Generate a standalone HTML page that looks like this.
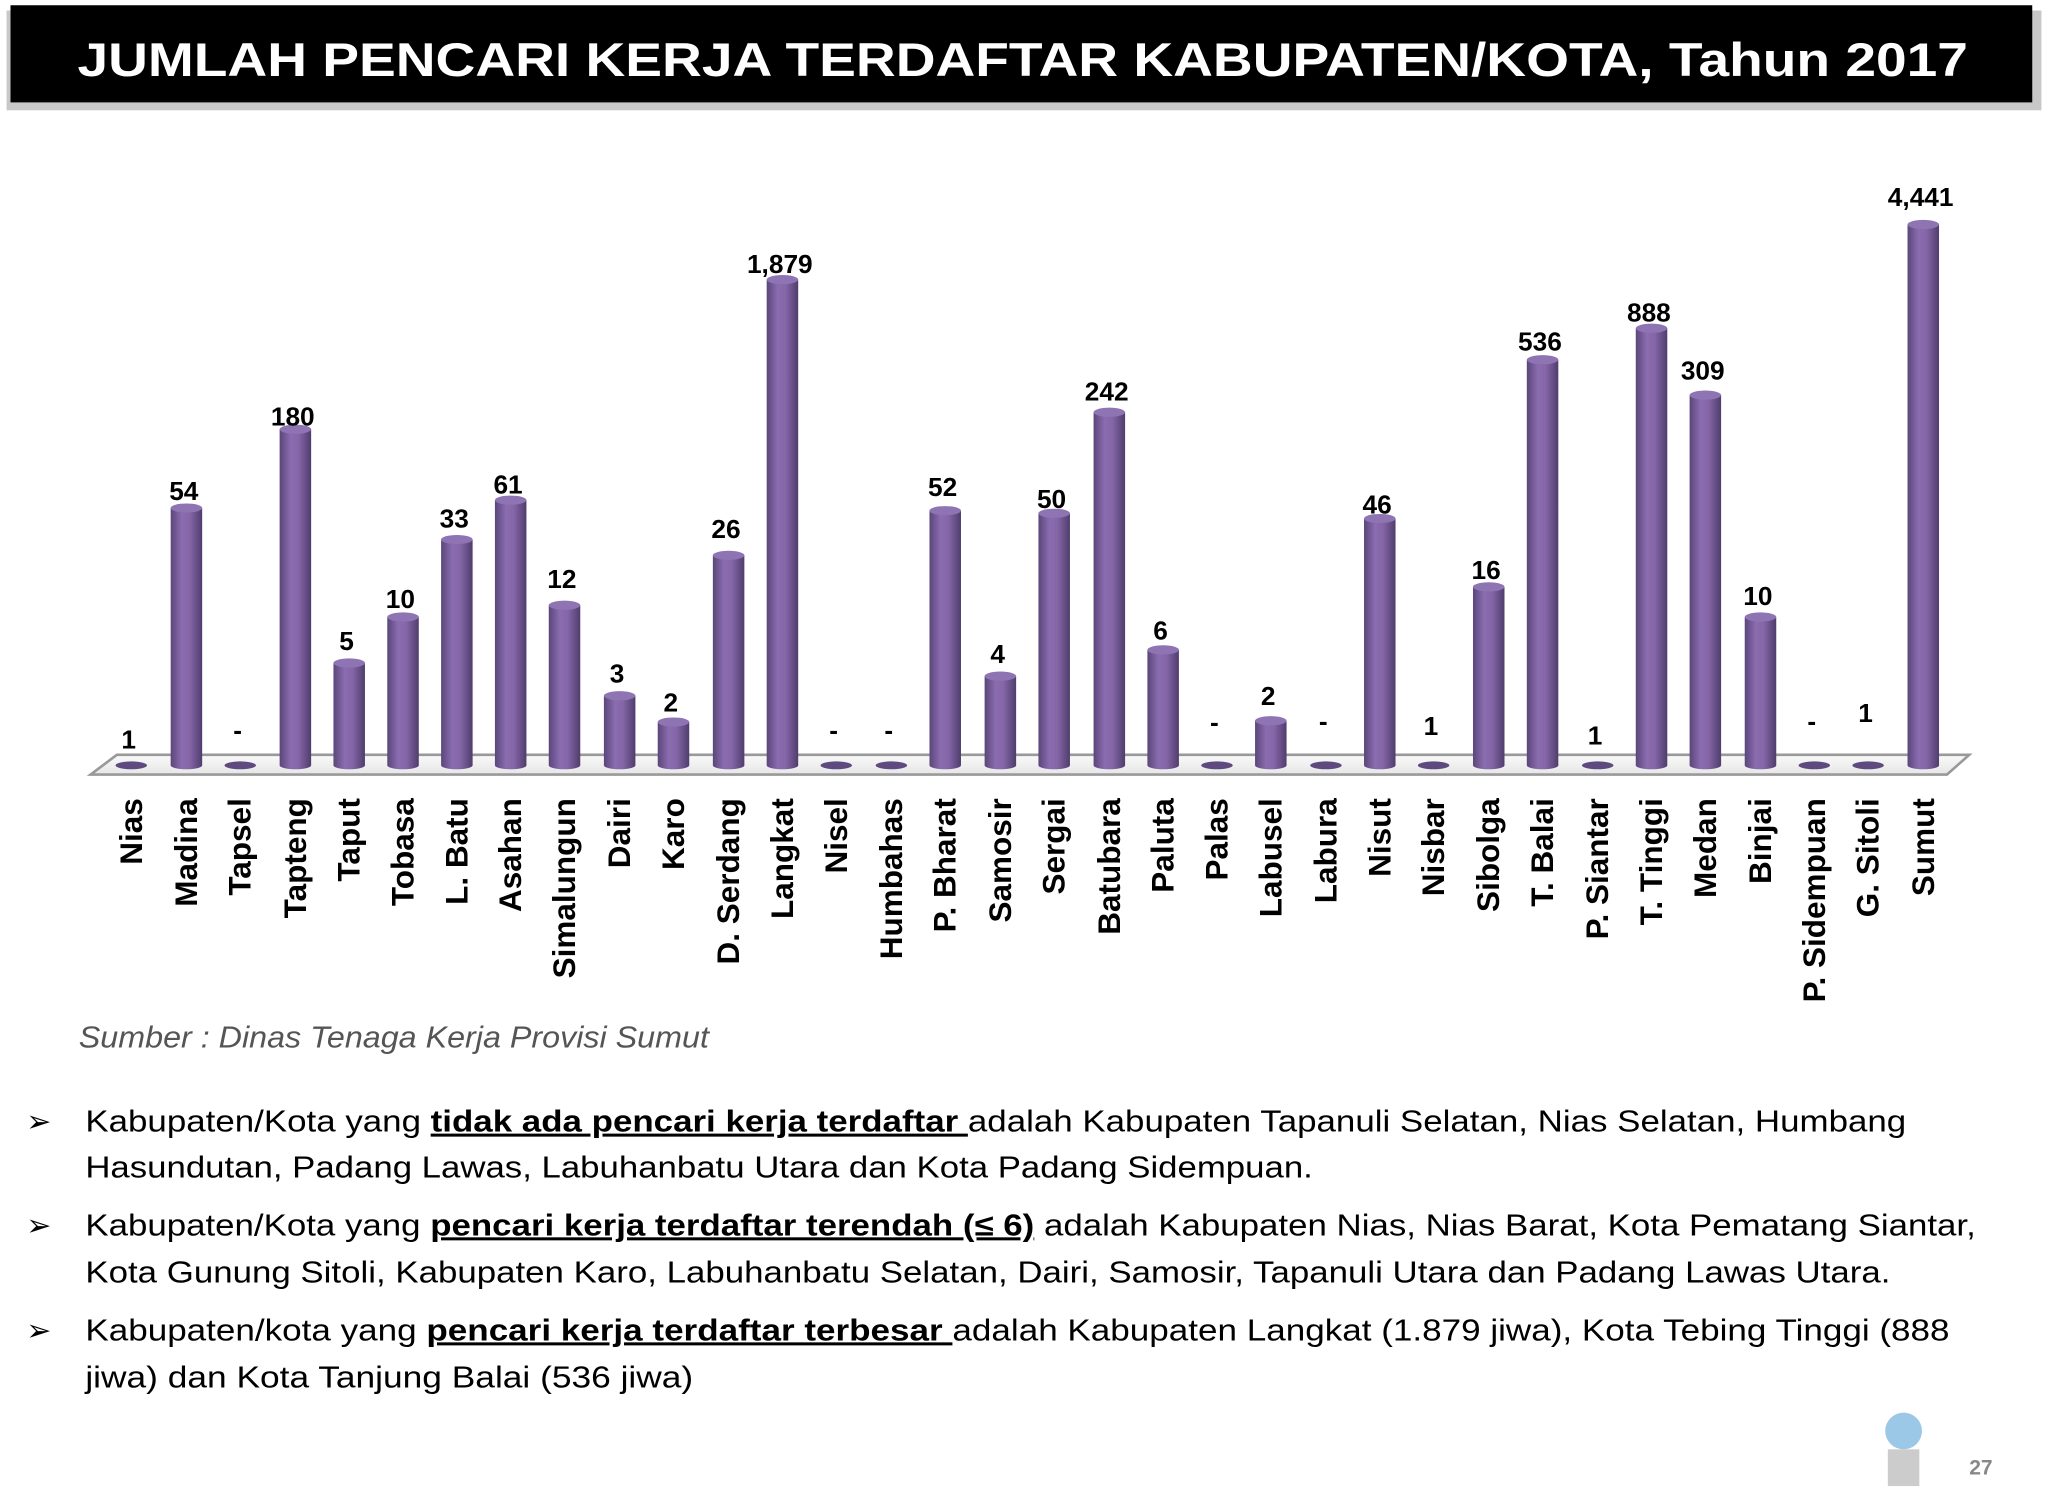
<!DOCTYPE html>
<html><head><meta charset="utf-8">
<style>html,body{margin:0;padding:0;background:#fff;}svg{display:block;}</style>
</head><body>
<svg width="2048" height="1500" viewBox="0 0 1560 1142.6" preserveAspectRatio="none" xmlns="http://www.w3.org/2000/svg" font-family="Liberation Sans, sans-serif">
<defs>
<linearGradient id="cyl" x1="0" x2="1" y1="0" y2="0">
<stop offset="0" stop-color="#5a4679"/><stop offset="0.35" stop-color="#8a6cb0"/><stop offset="0.6" stop-color="#8566a8"/><stop offset="1" stop-color="#4f3d6c"/>
</linearGradient>
<linearGradient id="floor" x1="0" x2="0" y1="0" y2="1"><stop offset="0" stop-color="#fafafa"/><stop offset="1" stop-color="#e6e6e6"/></linearGradient>
</defs>
<rect x="5" y="8" width="1550" height="76" fill="#c8c8c8"/>
<rect x="8" y="4" width="1540" height="74" fill="#000"/>
<text x="779" y="58" text-anchor="middle" fill="#fff" font-weight="bold" font-size="36" textLength="1440" lengthAdjust="spacingAndGlyphs">JUMLAH PENCARI KERJA TERDAFTAR KABUPATEN/KOTA, Tahun 2017</text>
<polygon points="89,575 1500,575 1483,590 69,590" fill="url(#floor)" stroke="#999" stroke-width="2"/>
<g id="bars"></g>
<g font-weight="bold" font-size="20" text-anchor="middle" fill="#000" id="vals"></g>
<g font-weight="bold" font-size="24" fill="#000" id="cats"></g>
<text x="60" y="798" font-style="italic" font-size="23" fill="#555" textLength="480" lengthAdjust="spacingAndGlyphs">Sumber : Dinas Tenaga Kerja Provisi Sumut</text>
<g font-size="23" fill="#000">
<text x="20" y="862">➢</text><text x="20" y="941">➢</text><text x="20" y="1021">➢</text>
<text x="65" y="862" textLength="1387" lengthAdjust="spacingAndGlyphs">Kabupaten/Kota yang <tspan font-weight="bold" text-decoration="underline">tidak ada pencari kerja terdaftar </tspan>adalah Kabupaten Tapanuli Selatan, Nias Selatan, Humbang</text>
<text x="65" y="897" textLength="935" lengthAdjust="spacingAndGlyphs">Hasundutan, Padang Lawas, Labuhanbatu Utara dan Kota Padang Sidempuan.</text>
<text x="65" y="941" textLength="1440" lengthAdjust="spacingAndGlyphs">Kabupaten/Kota yang <tspan font-weight="bold" text-decoration="underline">pencari kerja terdaftar terendah (≤ 6)</tspan> adalah Kabupaten Nias, Nias Barat, Kota Pematang Siantar,</text>
<text x="65" y="977" textLength="1375" lengthAdjust="spacingAndGlyphs">Kota Gunung Sitoli, Kabupaten Karo, Labuhanbatu Selatan, Dairi, Samosir, Tapanuli Utara dan Padang Lawas Utara.</text>
<text x="65" y="1021" textLength="1420" lengthAdjust="spacingAndGlyphs">Kabupaten/kota yang <tspan font-weight="bold" text-decoration="underline">pencari kerja terdaftar terbesar </tspan>adalah Kabupaten Langkat (1.879 jiwa), Kota Tebing Tinggi (888</text>
<text x="65" y="1057" textLength="463" lengthAdjust="spacingAndGlyphs">jiwa) dan Kota Tanjung Balai (536 jiwa)</text>
</g>
<circle cx="1450" cy="1090" r="14" fill="#9cc8e8"/>
<rect x="1438" y="1104" width="24" height="28" fill="#ccc"/>
<text x="1500" y="1123" font-size="16" font-weight="bold" fill="#888">27</text>
</svg>
<script>
var d=[["Nias",100,null,"1",570],["Madina",142,387,"54",381],["Tapsel",183,null,"-",563],["Tapteng",225,327,"180",324],["Taput",266,505,"5",495],["Tobasa",307,470,"10",463],["L. Batu",348,411,"33",402],["Asahan",389,381,"61",376],["Simalungun",430,461,"12",448],["Dairi",472,530,"3",520],["Karo",513,550,"2",542],["D. Serdang",555,423,"26",410],["Langkat",596,213,"1,879",208],["Nisel",637,null,"-",563],["Humbahas",679,null,"-",563],["P. Bharat",720,389,"52",378],["Samosir",762,515,"4",505],["Sergai",803,391,"50",387],["Batubara",845,314,"242",305],["Paluta",886,495,"6",487],["Palas",927,null,"-",557],["Labusel",968,549,"2",537],["Labura",1010,null,"-",556],["Nisut",1051,395,"46",391],["Nisbar",1092,null,"1",560],["Sibolga",1134,447,"16",441],["T. Balai",1175,274,"536",267],["P. Siantar",1217,null,"1",567],["T. Tinggi",1258,250,"888",245],["Medan",1299,301,"309",289],["Binjai",1341,470,"10",461],["P. Sidempuan",1382,null,"-",556],["G. Sitoli",1423,null,"1",550],["Sumut",1465,171,"4,441",157]];
var ns="http://www.w3.org/2000/svg",B=document.getElementById("bars"),V=document.getElementById("vals"),C=document.getElementById("cats");
function el(t,a,p){var e=document.createElementNS(ns,t);for(var k in a)e.setAttribute(k,a[k]);p.appendChild(e);return e;}
d.forEach(function(r){var x=r[1],bot=583,w=12;
 if(r[2]==null){el("ellipse",{cx:x,cy:bot,rx:w,ry:3,fill:"#5e4a7e"},B);}
 else{var t=r[2];
  el("path",{d:"M"+(x-w)+","+t+" L"+(x-w)+","+bot+" A"+w+",3 0 0 0 "+(x+w)+","+bot+" L"+(x+w)+","+t+" Z",fill:"url(#cyl)"},B);
  el("ellipse",{cx:x,cy:t,rx:w,ry:3.5,fill:"#8f74b4"},B);}
 el("text",{x:r[1]-2,y:r[4]},V).textContent=r[3];
 var tx=el("text",{x:0,y:0,"text-anchor":"end",transform:"translate("+(r[1]+8)+",608) rotate(-90)"},C);tx.textContent=r[0];
});
</script>
</body></html>
